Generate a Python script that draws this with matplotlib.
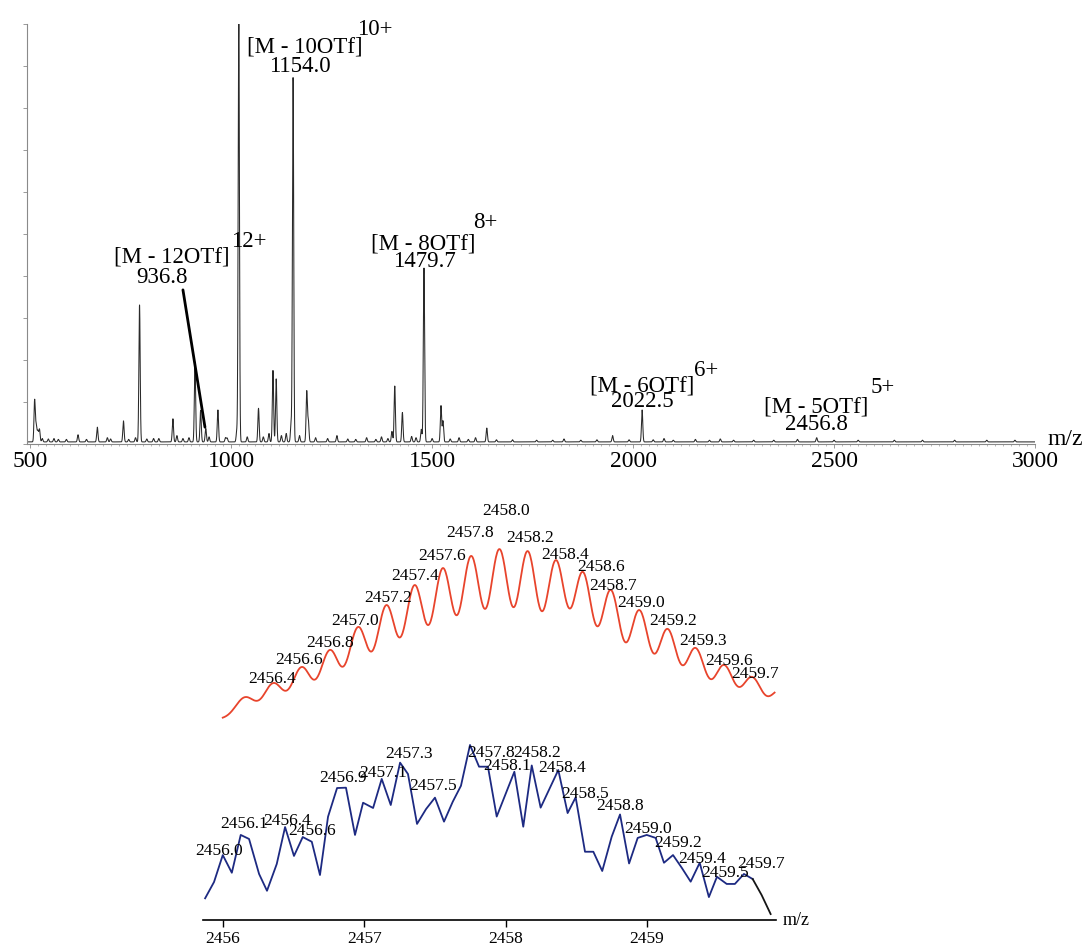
import numpy as np
import matplotlib
matplotlib.use("Agg")
import matplotlib.pyplot as plt
from matplotlib.ticker import MultipleLocator

plt.rcParams["font.family"] = ["Liberation Serif", "DejaVu Serif"]

# full scan: peak centres (m/z) and relative intensity (%)
scan_mz = [511, 515, 519, 523, 530, 545, 559, 570, 590, 619, 640, 667, 692,
           700, 732, 745, 762, 772, 790, 807, 820, 855, 865, 880, 895, 910,
           924, 936.8, 945, 967, 986, 990, 1014, 1019, 1040, 1068, 1080, 1094,
           1104, 1112, 1125, 1137, 1149, 1154.0, 1170, 1188, 1192, 1210, 1240,
           1263, 1290, 1310, 1337, 1360, 1374, 1390, 1400, 1407, 1426, 1449,
           1460, 1473, 1479.7, 1500, 1522, 1527, 1545, 1567, 1590, 1608, 1636,
           1660, 1700, 1760, 1800, 1828, 1870, 1910, 1949, 1990, 2022.5, 2050,
           2077, 2100, 2155, 2190, 2217, 2250, 2300, 2350, 2409, 2456.8, 2500,
           2560, 2650, 2720, 2800, 2880, 2950]
scan_int = [10, 4, 2.5, 3, 0.8, 0.7, 0.8, 0.6, 0.6, 1.7, 0.6, 3.5, 1,
            0.7, 5, 0.6, 1, 32.6, 0.7, 0.8, 0.8, 5.5, 1.5, 0.8, 1, 19,
            7.5, 3.2, 1.2, 7.6, 1, 0.9, 2.5, 100, 1.2, 8, 1.2, 2,
            17, 15, 1.5, 2, 4, 86.7, 1.5, 12, 5, 1, 0.8,
            1.5, 0.7, 0.6, 1, 0.6, 1.2, 0.8, 2.5, 13.3, 7, 1.3,
            1, 3, 41.4, 0.8, 8.6, 5, 0.7, 1, 0.6, 1, 3.3,
            0.5, 0.5, 0.4, 0.4, 0.7, 0.4, 0.5, 1.5, 0.5, 7.6, 0.5,
            0.8, 0.4, 0.6, 0.4, 0.7, 0.4, 0.4, 0.4, 0.6, 1.0, 0.4,
            0.4, 0.4, 0.4, 0.4, 0.4, 0.4]

# labelled ions [M - nOTf]^z+
ion_loss = [12, 10, 8, 6, 5]
ion_charge = [12, 10, 8, 6, 5]
ion_mz = [936.8, 1154.0, 1479.7, 2022.5, 2456.8]

# simulated isotope pattern of [M - 5OTf]5+
sim_mz = [2456.16, 2456.36, 2456.56, 2456.76, 2456.96, 2457.16, 2457.36,
          2457.56, 2457.76, 2457.96, 2458.16, 2458.36, 2458.551, 2458.749,
          2458.951, 2459.151, 2459.349, 2459.551, 2459.749, 2459.949]
sim_int = [13.1, 21.4, 30.9, 41.0, 54.7, 67.7, 79.6, 89.7, 96.9, 101.0,
           99.8, 93.9, 86.8, 76.7, 64.8, 53.5, 42.2, 32.1, 25.0, 17.2]

# measured isotope pattern
exp_mz = [2455.873, 2455.936, 2455.998, 2456.062, 2456.125, 2456.184,
          2456.255, 2456.311, 2456.380, 2456.439, 2456.502, 2456.564,
          2456.628, 2456.686, 2456.743, 2456.807, 2456.870, 2456.934,
          2456.991, 2457.062, 2457.123, 2457.187, 2457.253, 2457.309,
          2457.373, 2457.437, 2457.500, 2457.564, 2457.626, 2457.684,
          2457.748, 2457.812, 2457.875, 2457.937, 2458.062, 2458.125,
          2458.185, 2458.248, 2458.373, 2458.439, 2458.496, 2458.562,
          2458.621, 2458.684, 2458.751, 2458.810, 2458.874, 2458.935,
          2458.999, 2459.062, 2459.121, 2459.185, 2459.248, 2459.310,
          2459.374, 2459.439, 2459.496, 2459.565, 2459.623, 2459.687,
          2459.749, 2459.812, 2459.876]
exp_int = [12.4, 21.7, 37.1, 27.0, 48.6, 46.3, 26.3, 16.7, 32.0, 53.1,
           36.6, 47.4, 44.7, 25.7, 59.0, 75.4, 75.6, 48.6, 67.0, 64.0,
           80.6, 65.7, 89.9, 83.4, 54.9, 63.4, 69.9, 56.2, 67.6, 76.7,
           100.0, 87.6, 87.6, 59.1, 84.7, 53.3, 88.3, 64.2, 85.7, 61.1,
           70.1, 39.0, 39.0, 28.0, 47.6, 60.3, 32.3, 46.9, 48.6, 46.9,
           32.7, 37.1, 29.7, 21.9, 32.7, 13.1, 24.7, 20.6, 20.6, 26.3,
           23.4, 14.3, 3.4]
exp_peaks = [2456.0, 2456.1, 2456.4, 2456.6, 2456.9, 2457.1, 2457.3, 2457.5,
             2457.8, 2458.1, 2458.2, 2458.4, 2458.5, 2458.8, 2459.0, 2459.2,
             2459.4, 2459.5, 2459.7]

fig = plt.figure(figsize=(10.87, 9.47), dpi=100)
W, H = 1087, 947


def px_axes(left, top, right, bottom):
    return fig.add_axes([left / W, (H - bottom) / H, (right - left) / W, (bottom - top) / H])


# ---- full scan ----
ax = px_axes(27, 24, 1035, 444)
x = np.arange(492, 3000, 0.25)
y = np.full_like(x, 0.5)
for c, h in zip(scan_mz, scan_int):
    y += h * np.exp(-(x - c) ** 2 / (2 * 1.6 ** 2))
ax.plot(x, y, color="#2a2a2a", lw=0.75)
ax.set_xlim(492, 3000)
ax.set_ylim(0, 100)
for s in ["top", "right"]:
    ax.spines[s].set_visible(False)
ax.spines["left"].set_color("#8a8a8a")
ax.spines["bottom"].set_color("#8a8a8a")
ax.spines["left"].set_linewidth(0.8)
ax.spines["bottom"].set_linewidth(0.8)
ax.xaxis.set_major_locator(MultipleLocator(500))
ax.xaxis.set_minor_locator(MultipleLocator(20))
ax.yaxis.set_major_locator(MultipleLocator(10))
ax.tick_params(axis="x", which="major", length=3, width=0.6, color="#8a8a8a",
               labelsize=17, pad=2)
ax.tick_params(axis="x", which="minor", length=1.5, width=0.5, color="#9a9a9a")
ax.tick_params(axis="y", length=3, width=0.6, color="#8a8a8a", labelleft=False)
ax.text(1.012, 0.01, "m/z", transform=ax.transAxes, fontsize=17, va="center", ha="left")

# ion labels: name centre x, name baseline, value centre x, value baseline, charge left x, charge baseline
ion_layout = [
    (853, 43.3, 828, 38.3, 1000, 46.9),
    (1184, 93.1, 1172, 88.6, 1313, 97.4),
    (1477, 46.2, 1482, 42.1, 1602, 51.4),
    (2022, 12.6, 2022, 8.8, 2152, 16.2),
    (2455, 7.4, 2455, 3.3, 2590, 12.1),
]
for n, mz, z, (nx, ny, vx, vy, cx, cy) in zip(ion_loss, ion_mz, ion_charge, ion_layout):
    ax.text(nx, ny, f"[M - {n}OTf]", fontsize=16.5, ha="center", va="baseline")
    ax.text(vx, vy, f"{mz:.1f}", fontsize=16.5, ha="center", va="baseline")
    ax.text(cx, cy, f"{z}+", fontsize=16.5, ha="left", va="baseline")
ax.annotate("", xy=(ion_mz[0] - 2, 4.0), xytext=(880, 36.7),
            arrowprops=dict(arrowstyle="-", lw=2, color="black", shrinkA=0, shrinkB=0))

# ---- simulated pattern ----
ax_sim = px_axes(203, 479, 776, 719)
xs = np.linspace(2456.0, 2459.91, 900)
ys = np.zeros_like(xs)
for c, h in zip(sim_mz, sim_int):
    ys += h * np.exp(-(xs - c) ** 2 / (2 * 0.068 ** 2))
ax_sim.plot(xs, ys, color="#e8442c", lw=1.3)
ax_sim.set_xlim(2455.86, 2459.92)
ax_sim.set_ylim(0, 146.3)
ax_sim.axis("off")

# label nudges (dx in m/z, dy in intensity) for the labelled isotopes
sim_nudge = [(-0.011, 0), (-0.02, 1.8), (0, 1.8), (-0.024, 1.2), (0.01, 1.8),
             (0, 3.1), (-0.008, 4.9), (-0.01, 11.6), (0.045, 20.7), (0.015, 5.5),
             (0.069, 0.7), (0.126, 0.6), (0.02, 0), (0.016, 1.8), (0.042, 2.4),
             (0.057, 1.8), (0.039, 0), (0.025, -0.6)]
for c, (dx, dy) in zip(sim_mz[1:-1], sim_nudge):
    top = np.interp(c, xs, ys)
    ax_sim.text(c + dx, top + dy, f"{c:.1f}", fontsize=12.5, ha="center",
                va="baseline", clip_on=False)

# ---- measured pattern ----
ax_exp = px_axes(203, 735, 776, 920)
ax_exp.plot(exp_mz[:-2], exp_int[:-2], color="#1d2a82", lw=1.3)
ax_exp.plot(exp_mz[-3:], exp_int[-3:], color="#151515", lw=1.3)
ax_exp.set_xlim(2455.858, 2459.914)
ax_exp.set_ylim(0, 105.7)
for s in ["top", "right", "left"]:
    ax_exp.spines[s].set_visible(False)
ax_exp.spines["bottom"].set_linewidth(1.2)
ax_exp.set_yticks([])
ax_exp.xaxis.set_major_locator(MultipleLocator(1))
ax_exp.tick_params(axis="x", length=5, width=1, labelsize=12.5, pad=3)
ax_exp.text(1.012, 0.0, "m/z", transform=ax_exp.transAxes, fontsize=13,
            ha="left", va="center")

exp_label_dx = [-0.025, 0.05, 0.05, 0.03, -0.05, 0.03, 0.02, -0.01, 0.10, -0.09,
                0.02, 0.0, 0.06, 0.01, 0.01, 0.02, -0.01, 0.05, 0.11]
exp_label_y = [37.1, 52.6, 54.3, 48.6, 78.9, 81.7, 92.6, 74.3, 93.1, 85.7,
               93.1, 84.6, 69.7, 62.9, 49.7, 41.7, 32.6, 24.6, 29.7]
for p, dx, ly in zip(exp_peaks, exp_label_dx, exp_label_y):
    ax_exp.text(p + dx, ly, f"{p:.1f}", fontsize=12.5, ha="center",
                va="baseline", clip_on=False)

fig.savefig("out.png", dpi=100)
